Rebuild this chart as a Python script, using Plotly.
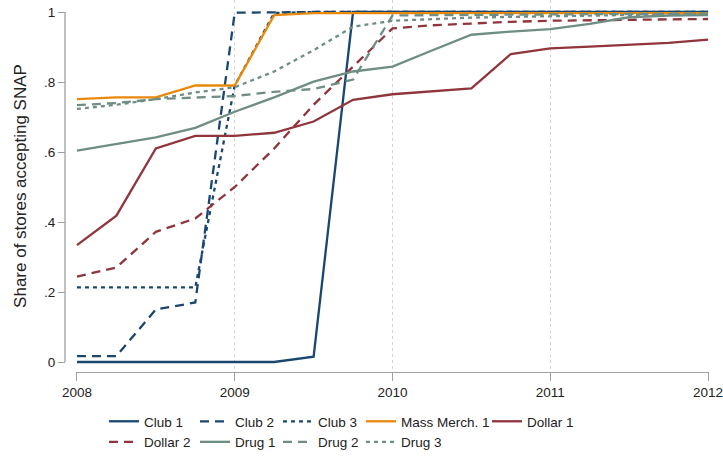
import plotly.graph_objects as go

# ---- data ----
quarters = [2008, 2008.25, 2008.5, 2008.75, 2009, 2009.25, 2009.5, 2009.75,
            2010, 2010.25, 2010.5, 2010.75, 2011, 2011.25, 2011.5, 2011.75, 2012]

club1 = [0, 0, 0, 0, 0, 0, 0.015, 1.0, 1.0, 1.0, 1.0, 1.0, 1.0, 1.0, 1.0, 1.0, 1.0]
club2 = [0.017, 0.017, 0.15, 0.17, 0.998, 1.0, 1.0, 1.0, 1.0, 1.0, 1.0, 1.0, 1.0, 1.0, 1.0, 1.0, 1.0]
club3 = [0.213, 0.213, 0.213, 0.213, 0.79, 0.997, 1.0, 1.0, 1.0, 1.0, 1.0, 1.0, 1.0, 1.0, 1.0, 1.0, 1.0]
mass1 = [0.751, 0.756, 0.756, 0.79, 0.79, 0.991, 0.997, 0.997, 0.997, 0.997, 0.997, 0.997, 0.997, 0.997, 0.997, 0.997, 0.997]
dollar1 = [0.334, 0.418, 0.610, 0.646, 0.646, 0.655, 0.687, 0.749, 0.765, 0.774, 0.782, 0.880,
           0.896, 0.901, 0.906, 0.912, 0.921]
dollar2 = [0.244, 0.270, 0.372, 0.410, 0.50, 0.61, 0.735, 0.845, 0.953, 0.962, 0.968, 0.972,
           0.975, 0.977, 0.978, 0.979, 0.980]
drug1 = [0.604, 0.623, 0.642, 0.669, 0.715, 0.756, 0.801, 0.830, 0.844, 0.890, 0.935, 0.944,
         0.951, 0.966, 0.985, 0.990, 0.991]
drug2 = [0.734, 0.740, 0.751, 0.755, 0.760, 0.772, 0.780, 0.807, 0.990, 0.991, 0.992, 0.993,
         0.993, 0.994, 0.994, 0.995, 0.995]
drug3 = [0.723, 0.735, 0.751, 0.770, 0.785, 0.830, 0.891, 0.958, 0.975, 0.980, 0.984, 0.986,
         0.988, 0.990, 0.992, 0.993, 0.995]

x_tickvals = [2008, 2009, 2010, 2011, 2012]
x_ticktext = ["2008", "2009", "2010", "2011", "2012"]
y_tickvals = [0, 0.2, 0.4, 0.6, 0.8, 1]
y_ticktext = ["0", ".2", ".4", ".6", ".8", "1"]

NAVY = "#1a476f"
MAROON = "#90353b"
TEAL = "#6e8e84"
ORANGE = "#e8890c"

DASH = "9px,6px"
DOT = "4px,4px"
LW = 2.3

# (name, values, color, dash, legend)
series = [
    ("Club 1", club1, NAVY, "solid", "legend"),
    ("Club 2", club2, NAVY, DASH, "legend2"),
    ("Club 3", club3, NAVY, DOT, "legend3"),
    ("Mass Merch. 1", mass1, ORANGE, "solid", "legend4"),
    ("Dollar 1", dollar1, MAROON, "solid", "legend5"),
    ("Dollar 2", dollar2, MAROON, DASH, "legend"),
    ("Drug 1", drug1, TEAL, "solid", "legend2"),
    ("Drug 2", drug2, TEAL, DASH, "legend3"),
    ("Drug 3", drug3, TEAL, DOT, "legend4"),
]

FONT = "Liberation Sans, Arial, sans-serif"

fig = go.Figure()
for name, vals, color, dash, leg in series:
    fig.add_trace(go.Scatter(
        x=quarters, y=vals, mode="lines", name=name, legend=leg,
        line=dict(color=color, width=LW, dash=dash),
        hoverinfo="skip",
    ))

W, H = 723, 456
ML, MR, MT, MB = 65, 14, 0, 84
PW = W - ML - MR
PH = H - MT - MB

def px_x(p):
    return (p - ML) / PW

def px_y(p):
    return (H - MB - p) / PH

# y range such that 0 -> 362px and 1 -> 12px within plot area 0..372
y_lo = -(372 - 362) / 350
y_hi = 1 + 12 / 350

legend_common = dict(
    orientation="v", xanchor="left", yanchor="top",
    font=dict(family=FONT, size=13.5, color="#222"),
    bgcolor="rgba(0,0,0,0)", borderwidth=0, tracegroupgap=0,
    traceorder="normal", itemwidth=30,
)
leg_y = px_y(406)
layout_legends = {}
for key, xp in [("legend", 104), ("legend2", 195), ("legend3", 278), ("legend4", 361), ("legend5", 487)]:
    layout_legends[key] = dict(legend_common, x=px_x(xp), y=leg_y)

AX = "#a0a0a0"

fig.update_layout(
    width=W, height=H,
    margin=dict(l=ML, r=MR, t=MT, b=MB, autoexpand=False),
    paper_bgcolor="white", plot_bgcolor="white",
    font=dict(family=FONT, color="#222"),
    showlegend=True,
    xaxis=dict(
        domain=[px_x(76), 1], range=[2007.994, 2012.006],
        tickvals=x_tickvals, ticktext=x_ticktext, ticklabeloverflow="allow",
        showline=True, linecolor=AX, linewidth=1.3,
        ticks="outside", ticklen=8, tickcolor=AX, tickwidth=1.3,
        showgrid=True, gridcolor="#d4d4d4", gridwidth=1, griddash="dot",
        zeroline=False, tickfont=dict(family=FONT, size=13.5, color="#222"),
        fixedrange=True,
    ),
    yaxis=dict(
        domain=[0, 1], range=[y_lo, y_hi], anchor="free", position=0,
        tickvals=y_tickvals, ticktext=y_ticktext,
        showline=False, ticks="outside", ticklen=7, tickcolor=AX, tickwidth=1.3,
        showgrid=False, zeroline=False,
        tickfont=dict(family=FONT, size=13.5, color="#222"),
        title=dict(text="Share of stores accepting SNAP",
                   font=dict(family=FONT, size=17, color="#222"), standoff=12),
        fixedrange=True,
    ),
    shapes=[dict(type="line", xref="paper", yref="y", x0=0, x1=0, y0=0, y1=1,
                 line=dict(color=AX, width=1.3), layer="above")],
    **layout_legends,
)

fig.write_html("out.html", config={"displayModeBar": False},
               post_script="document.body.style.margin='0';document.body.style.overflow='hidden';")
